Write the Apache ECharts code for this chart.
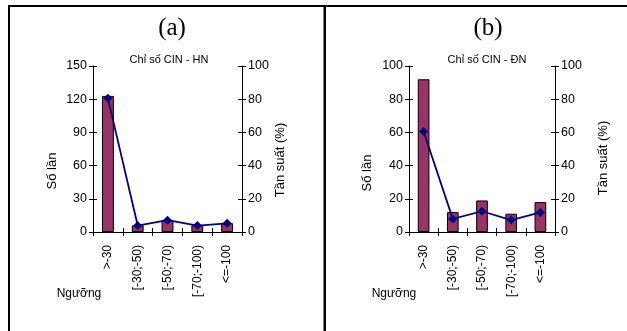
<!DOCTYPE html>
<html>
<head>
<meta charset="utf-8">
<script src="https://cdn.jsdelivr.net/npm/echarts@6/dist/echarts.min.js"></script>
<style>
html,body{margin:0;padding:0;background:#fff;}
#c{width:627px;height:331px;}
</style>
</head>
<body>
<div id="c"></div>
<script>
// ---- data ----
var categories = ['>-30', '[-30;-50)', '[-50;-70)', '[-70;-100)', '<=-100'];
var countsHN = [123, 6, 11, 6, 8];
var pctHN = [80.5, 3.9, 7.1, 3.9, 5.2];
var countsDN = [92, 12, 19, 11, 18];
var pctDN = [60.5, 7.9, 12.5, 7.2, 11.8];
var titleHN = 'Chỉ số CIN - HN';
var titleDN = 'Chỉ số CIN - ĐN';
var panelA = '(a)';
var panelB = '(b)';
var yNameLeft = 'Số lần';
var yNameRight = 'Tần suất (%)';
var xName = 'Ngưỡng';

var SANS = 'Liberation Sans, Arial, sans-serif';
var SERIF = 'Liberation Serif, Times New Roman, serif';
var BAR = '#993366';
var LINE = '#000080';

function valAxis(grid, pos, min, max, interval, inside, labels) {
  return {
    type: 'value', gridIndex: grid, position: pos, min: min, max: max, interval: interval,
    splitLine: {show: false},
    axisLine: {show: !inside, lineStyle: {color: '#000', width: 1}},
    axisTick: {show: true, inside: inside, length: 4, lineStyle: {color: '#000', width: 1}},
    axisLabel: {show: labels, color: '#000', fontFamily: SANS, fontSize: 12.5, margin: 6}
  };
}
function catAxis(grid, inside) {
  return {
    type: 'category', gridIndex: grid, position: 'bottom', data: categories,
    boundaryGap: true,
    axisLine: {show: !inside, lineStyle: {color: '#000', width: 1}},
    axisTick: {show: true, inside: inside, length: 4, alignWithLabel: false, lineStyle: {color: '#000', width: 1}},
    axisLabel: {show: !inside, rotate: 90, interval: 0, color: '#000', fontFamily: SANS, fontSize: 12, margin: 13}
  };
}

var chart = echarts.init(document.getElementById('c'), null, {renderer: 'canvas'});
chart.setOption({
  animation: false,
  backgroundColor: '#fff',
  grid: [
    {left: 93, top: 66, width: 149, height: 166},
    {left: 409, top: 66, width: 146, height: 166}
  ],
  xAxis: [catAxis(0, false), catAxis(0, true), catAxis(1, false), catAxis(1, true)],
  yAxis: [
    valAxis(0, 'left', 0, 150, 30, false, true),
    valAxis(0, 'right', 0, 100, 20, false, true),
    valAxis(0, 'left', 0, 150, 30, true, false),
    valAxis(0, 'right', 0, 100, 20, true, false),
    valAxis(1, 'left', 0, 100, 20, false, true),
    valAxis(1, 'right', 0, 100, 20, false, true),
    valAxis(1, 'left', 0, 100, 20, true, false),
    valAxis(1, 'right', 0, 100, 20, true, false)
  ],
  title: [
    {text: panelA, left: 167, top: 11, textAlign: 'center', textStyle: {fontFamily: SERIF, fontSize: 25, fontWeight: 'normal', color: '#000'}},
    {text: panelB, left: 483, top: 11, textAlign: 'center', textStyle: {fontFamily: SERIF, fontSize: 25, fontWeight: 'normal', color: '#000'}},
    {text: titleHN, left: 164, top: 49, textAlign: 'center', textStyle: {fontFamily: SANS, fontSize: 11, fontWeight: 'normal', color: '#000'}},
    {text: titleDN, left: 482, top: 49, textAlign: 'center', textStyle: {fontFamily: SANS, fontSize: 11, fontWeight: 'normal', color: '#000'}}
  ],
  series: [
    {type: 'bar', xAxisIndex: 0, yAxisIndex: 0, data: countsHN, barWidth: '40%',
     itemStyle: {color: BAR, borderColor: '#000', borderWidth: 1}},
    {type: 'line', xAxisIndex: 0, yAxisIndex: 1, data: pctHN, z: 5,
     lineStyle: {color: LINE, width: 1.8}, symbol: 'diamond', symbolSize: 9,
     itemStyle: {color: LINE}},
    {type: 'bar', xAxisIndex: 2, yAxisIndex: 4, data: countsDN, barWidth: '40%',
     itemStyle: {color: BAR, borderColor: '#000', borderWidth: 1}},
    {type: 'line', xAxisIndex: 2, yAxisIndex: 5, data: pctDN, z: 5,
     lineStyle: {color: LINE, width: 1.8}, symbol: 'diamond', symbolSize: 9,
     itemStyle: {color: LINE}}
  ],
  graphic: [
    {type: 'rect', shape: {x: 8, y: 5, width: 2, height: 326}, style: {fill: '#000'}},
    {type: 'rect', shape: {x: 8, y: 5, width: 619, height: 2}, style: {fill: '#000'}},
    {type: 'rect', shape: {x: 323.5, y: 5, width: 2.5, height: 326}, style: {fill: '#000'}},
    {type: 'text', x: 52, y: 171, rotation: Math.PI / 2,
     style: {text: yNameLeft, fontFamily: SANS, fontSize: 13, fill: '#000', textAlign: 'center', textVerticalAlign: 'middle'}},
    {type: 'text', x: 367, y: 173, rotation: Math.PI / 2,
     style: {text: yNameLeft, fontFamily: SANS, fontSize: 13, fill: '#000', textAlign: 'center', textVerticalAlign: 'middle'}},
    {type: 'text', x: 280, y: 160, rotation: Math.PI / 2,
     style: {text: yNameRight, fontFamily: SANS, fontSize: 13, fill: '#000', textAlign: 'center', textVerticalAlign: 'middle'}},
    {type: 'text', x: 603, y: 158, rotation: Math.PI / 2,
     style: {text: yNameRight, fontFamily: SANS, fontSize: 13, fill: '#000', textAlign: 'center', textVerticalAlign: 'middle'}},
    {type: 'text', x: 79, y: 294,
     style: {text: xName, fontFamily: SANS, fontSize: 12, fill: '#000', textAlign: 'center', textVerticalAlign: 'middle'}},
    {type: 'text', x: 394, y: 294,
     style: {text: xName, fontFamily: SANS, fontSize: 12, fill: '#000', textAlign: 'center', textVerticalAlign: 'middle'}}
  ]
});
</script>
</body>
</html>
